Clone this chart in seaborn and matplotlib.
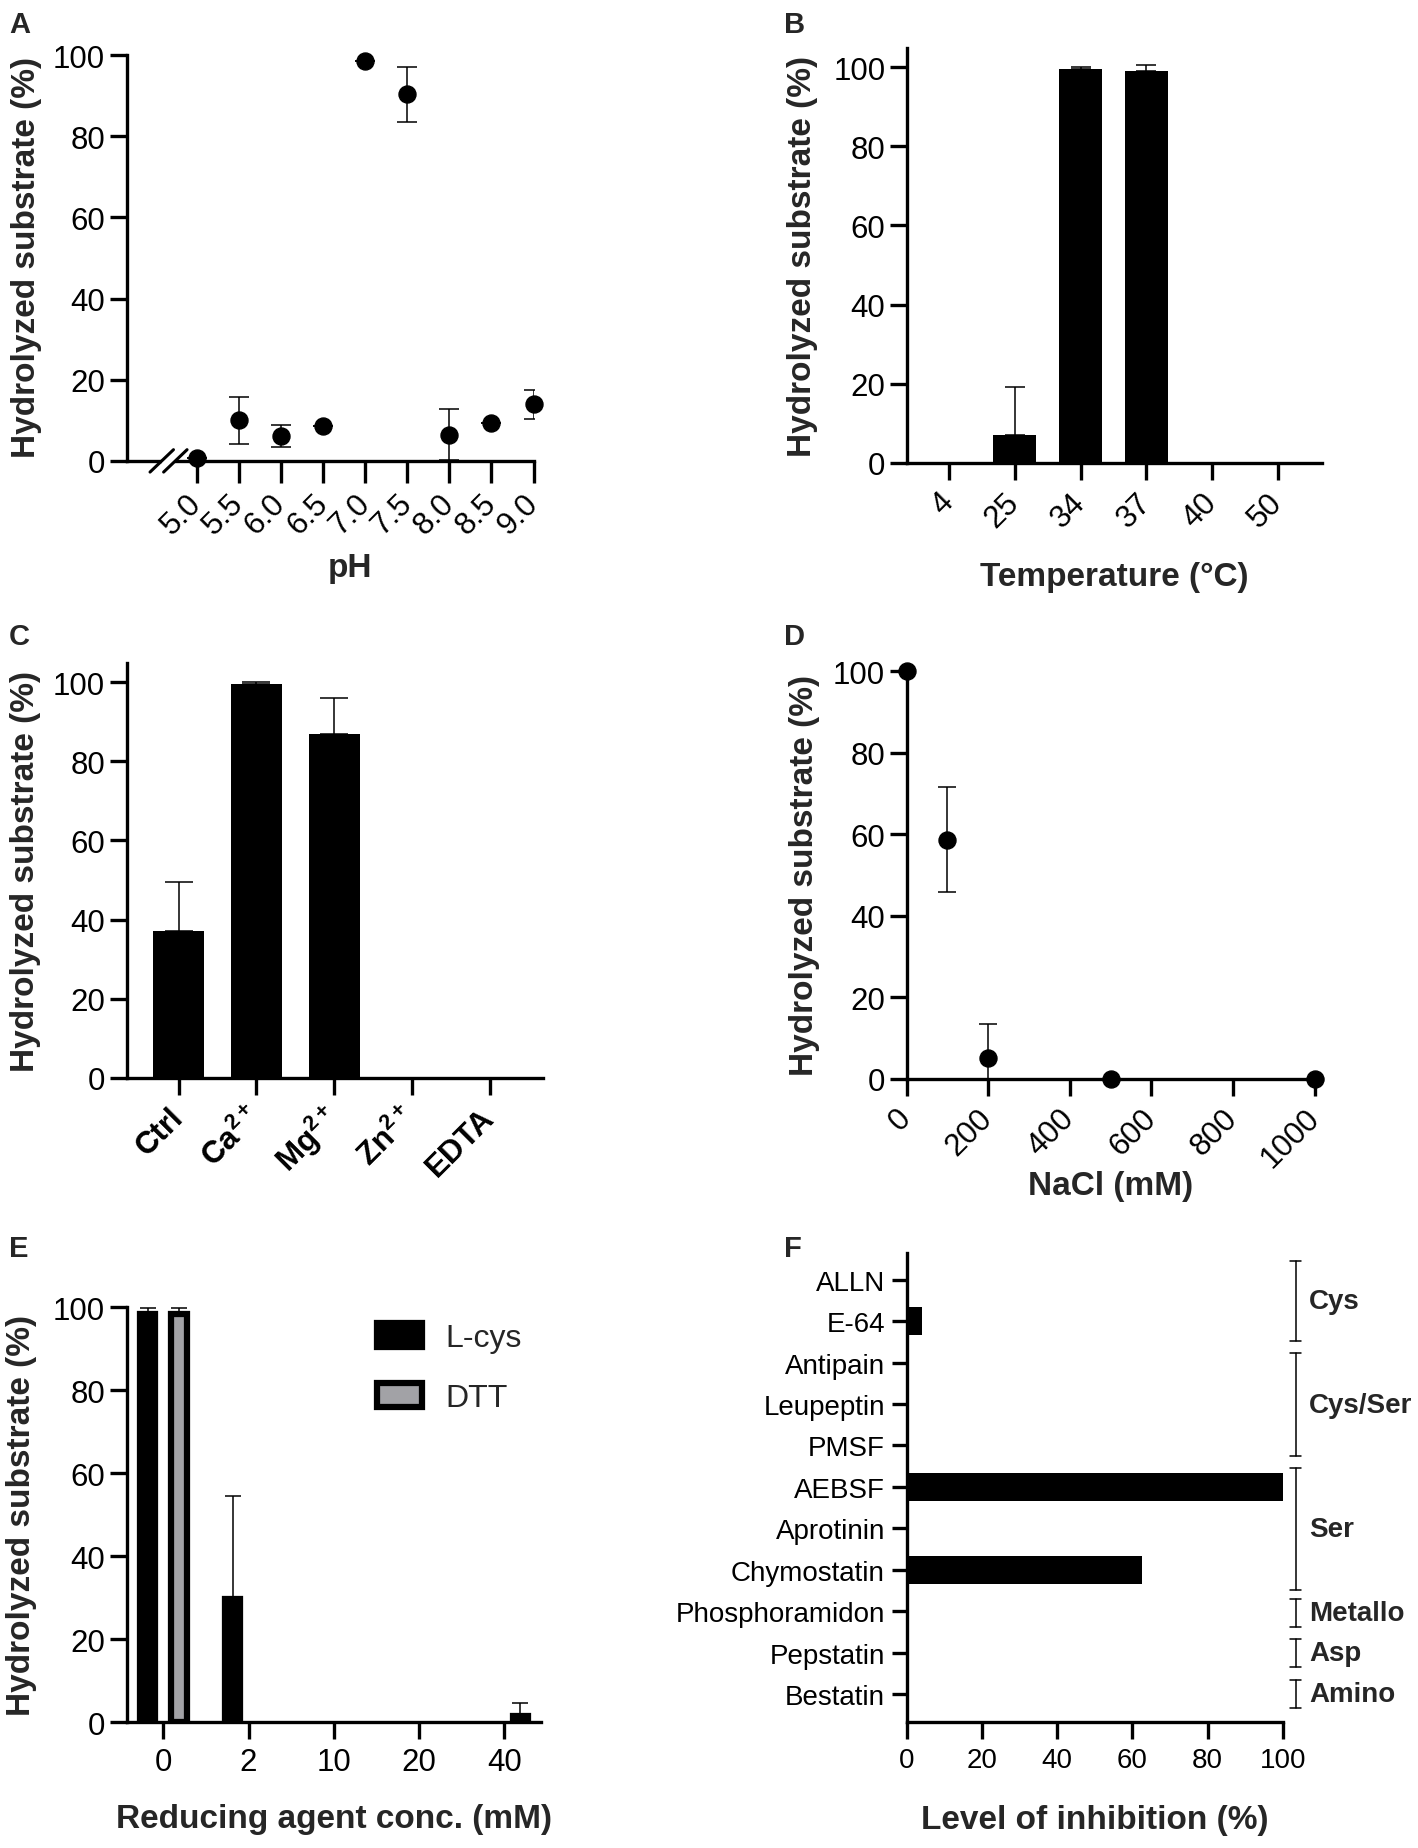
import numpy as np
import pandas as pd
import matplotlib
matplotlib.use("Agg")
import matplotlib.pyplot as plt
import seaborn as sns

# ---------------- data ----------------
ph = [5.0, 5.5, 6.0, 6.5, 7.0, 7.5, 8.0, 8.5, 9.0]
ph_mean = [0.7, 10.0, 6.2, 8.7, 98.5, 90.4, 6.4, 9.3, 13.9]
ph_sd = [0, 5.8, 2.7, 0, 0, 6.8, 6.3, 0, 3.6]

temp = ['4', '25', '34', '37', '40', '50']
temp_mean = [0, 7.0, 99.6, 99.1, 0, 0]
temp_sd = [0, 12.1, 0.5, 1.4, 0, 0]

ions = ['Ctrl', 'Ca2+', 'Mg2+', 'Zn2+', 'EDTA']
ion_labels = ['Ctrl', r'Ca$^{\mathbf{2+}}$', r'Mg$^{\mathbf{2+}}$', r'Zn$^{\mathbf{2+}}$', 'EDTA']
ion_mean = [37.1, 99.5, 87.0, 0, 0]
ion_sd = [12.5, 0.5, 9.0, 0, 0]

nacl = [0, 100, 200, 500, 1000]
nacl_mean = [100, 58.7, 5.0, 0, 0]
nacl_sd = [0, 13.0, 8.5, 0, 0]

conc = ['0', '2', '10', '20', '40']
agents = ['L-cys', 'DTT']
lcys_mean = [98.4, 29.8, 0, 0, 0]
lcys_sd = [1.3, 24.8, 0, 0, 0]
dtt_mean = [98.4, 0, 0, 0, 1.5]
dtt_sd = [1.3, 0, 0, 0, 3.2]

inhibitors = ['ALLN', 'E-64', 'Antipain', 'Leupeptin', 'PMSF', 'AEBSF',
              'Aprotinin', 'Chymostatin', 'Phosphoramidon', 'Pepstatin', 'Bestatin']
inhibition = [0, 4.0, 0, 0, 0, 100, 0, 62.5, 0, 0, 0]
group_names = ['Cys', 'Cys/Ser', 'Ser', 'Metallo', 'Asp', 'Amino']
group_start = [-0.46, 1.78, 4.54, 7.71, 8.68, 9.67]
group_end = [1.47, 4.26, 7.48, 8.38, 9.35, 10.35]

# ---------------- style ----------------
sns.set_theme(style='ticks')
plt.rcParams['font.family'] = ['Liberation Sans', 'DejaVu Sans']
plt.rcParams['mathtext.fontset'] = 'custom'
plt.rcParams['mathtext.rm'] = 'Liberation Sans'
plt.rcParams['mathtext.bf'] = 'Liberation Sans:bold'
plt.rcParams['mathtext.it'] = 'Liberation Sans:italic'

SP = 2.4
TICK = 22.5
LAB = 24
ELW = 1.1

fig = plt.figure(figsize=(14.18, 18.49), dpi=100)

def style_axes(ax, xlen=12, ylen=12, labelsize=TICK, ypad=3.5):
    sns.despine(ax=ax)
    for s in ['left', 'bottom']:
        ax.spines[s].set_linewidth(SP)
        ax.spines[s].set_color('black')
    ax.tick_params(axis='both', direction='out', width=SP, color='black',
                   labelsize=labelsize, labelcolor='black')
    ax.tick_params(axis='x', length=xlen, pad=6)
    ax.tick_params(axis='y', length=ylen, pad=ypad)
    ax.set_facecolor('white')

def set_labels(ax, xlabel, xpos, ylabel, ypos, size=LAB):
    if xlabel:
        ax.set_xlabel(xlabel, fontsize=size, fontweight='bold')
        ax.xaxis.set_label_coords(*xpos)
        ax.xaxis.label.set_verticalalignment('center')
    else:
        ax.set_xlabel('')
    if ylabel:
        ax.set_ylabel(ylabel, fontsize=size, fontweight='bold')
        ax.yaxis.set_label_coords(*ypos)
        ax.yaxis.label.set_verticalalignment('center')
        ax.yaxis.label.set_horizontalalignment('center')
    else:
        ax.set_ylabel('')

def rot_labels(ax, labels, pad=10, bold=False):
    ax.set_xticks(ax.get_xticks())
    ax.set_xticklabels(labels, rotation=45, ha='right', va='center',
                       rotation_mode='anchor',
                       fontweight='bold' if bold else 'normal')
    ax.tick_params(axis='x', pad=pad)

def bar_errors(ax, container, sds, capsize):
    for patch, sd in zip(container.patches if hasattr(container, 'patches') else container, sds):
        if sd > 0:
            xc = patch.get_x() + patch.get_width() / 2
            h = patch.get_height()
            ax.errorbar([xc], [h], yerr=[[0], [sd]], fmt='none', ecolor='black',
                        elinewidth=ELW, capsize=capsize, capthick=ELW, zorder=1)

YLBL = 'Hydrolyzed substrate (%)'

# ---------------- A ----------------
axA = fig.add_axes([0.0893, 0.7502, 0.2870, 0.2194])
axA.errorbar(ph, ph_mean, yerr=ph_sd, fmt='none', ecolor='black',
             elinewidth=ELW, capsize=7, capthick=ELW, zorder=2)
sns.scatterplot(x=ph, y=ph_mean, ax=axA, s=150, color='black',
                edgecolor='black', zorder=3, clip_on=False, legend=False)
axA.set_xlim(4.1675, 9.0)
axA.set_ylim(0, 100)
axA.set_yticks([0, 20, 40, 60, 80, 100])
axA.set_xticks(ph)
style_axes(axA, xlen=16)
rot_labels(axA, [f'{p:.1f}' for p in ph], pad=11)
set_labels(axA, 'pH', (0.55, -0.264), YLBL, (-0.2457, 0.505))
# axis break marks
axA.plot([0.0863, 0.1197], [0, 0], transform=axA.transAxes, color='white',
         lw=6, solid_capstyle='butt', clip_on=False, zorder=5)
for cx in [0.0863, 0.1197]:
    axA.plot([cx - 0.0288, cx + 0.0288], [-0.0276, 0.0276], transform=axA.transAxes,
             color='black', lw=2.2, clip_on=False, zorder=6)

# ---------------- B ----------------
axB = fig.add_axes([0.6396, 0.7492, 0.2927, 0.2241])
sns.barplot(x=temp, y=temp_mean, order=temp, color='black', saturation=1,
            width=0.653, linewidth=0, errorbar=None, ax=axB)
bar_errors(axB, axB.containers[0], temp_sd, 7.5)
axB.set_xlim(-0.638, 5.669)
axB.set_ylim(0, 104.8)
axB.set_yticks([0, 20, 40, 60, 80, 100])
style_axes(axB)
rot_labels(axB, temp, pad=13)
set_labels(axB, 'Temperature (°C)', (0.5, -0.274), YLBL, (-0.2516, 0.499))

# ---------------- C ----------------
axC = fig.add_axes([0.0893, 0.4166, 0.2933, 0.2241])
sns.barplot(x=ions, y=ion_mean, order=ions, color='black', saturation=1,
            width=0.656, linewidth=0, errorbar=None, ax=axC)
bar_errors(axC, axC.containers[0], ion_sd, 10)
axC.set_xlim(-0.67, 4.68)
axC.set_ylim(0, 104.8)
axC.set_yticks([0, 20, 40, 60, 80, 100])
style_axes(axC)
rot_labels(axC, ion_labels, pad=13, bold=True)
set_labels(axC, None, None, YLBL, (-0.242, 0.499))

# ---------------- D ----------------
axD = fig.add_axes([0.6393, 0.4161, 0.2927, 0.2203])
axD.errorbar(nacl, nacl_mean, yerr=nacl_sd, fmt='none', ecolor='black',
             elinewidth=ELW, capsize=6.5, capthick=ELW, zorder=2)
sns.scatterplot(x=nacl, y=nacl_mean, ax=axD, s=150, color='black',
                edgecolor='black', zorder=3, clip_on=False, legend=False)
axD.set_xlim(0, 1017)
axD.set_ylim(0, 100)
axD.set_xticks([0, 200, 400, 600, 800, 1000])
axD.set_yticks([0, 20, 40, 60, 80, 100])
style_axes(axD)
rot_labels(axD, ['0', '200', '400', '600', '800', '1000'], pad=13)
set_labels(axD, 'NaCl (mM)', (0.492, -0.262), YLBL, (-0.245, 0.5))

# ---------------- E ----------------
axE = fig.add_axes([0.0893, 0.0679, 0.2922, 0.2246])
dfE = pd.DataFrame({'conc': conc * 2,
                    'agent': ['L-cys'] * len(conc) + ['DTT'] * len(conc),
                    'value': lcys_mean + dtt_mean})
sns.barplot(data=dfE, x='conc', y='value', hue='agent', order=conc, hue_order=agents,
            palette={'L-cys': 'black', 'DTT': '#a2a2a6'}, saturation=1,
            width=0.74, gap=0.52, linewidth=4.5, edgecolor='black',
            errorbar=None, ax=axE)
for cont in axE.containers:
    for p in cont.patches if hasattr(cont, 'patches') else cont:
        if p.get_height() == 0:
            p.set_linewidth(0)
bar_errors(axE, axE.containers[0], lcys_sd, 6)
bar_errors(axE, axE.containers[1], dtt_sd, 6)
axE.set_xlim(-0.43, 4.43)
axE.set_ylim(0, 100)
axE.set_yticks([0, 20, 40, 60, 80, 100])
style_axes(axE)
leg = axE.get_legend()
handles = list(leg.legend_handles)
labels = [t.get_text() for t in leg.get_texts()]
for h, c in zip(handles, ['black', '#a2a2a6']):
    h.set_facecolor(c)
    h.set_edgecolor('black')
    h.set_linewidth(4.5)
axE.legend(handles, labels, loc='upper left', bbox_to_anchor=(0.604, 0.962),
           frameon=False, fontsize=23, handlelength=1.4, handleheight=0.75,
           labelspacing=0.95, handletextpad=0.75, borderpad=0, borderaxespad=0)
set_labels(axE, 'Reducing agent conc. (mM)', (0.5, -0.232), YLBL, (-0.254, 0.5))

# ---------------- F ----------------
axF = fig.add_axes([0.6393, 0.0683, 0.2654, 0.2536])
sns.barplot(x=inhibition, y=inhibitors, order=inhibitors, orient='h', color='black',
            saturation=1, width=0.67, linewidth=0, errorbar=None, ax=axF)
axF.set_xlim(0, 100)
axF.set_ylim(10.67, -0.65)
axF.set_xticks([0, 20, 40, 60, 80, 100])
style_axes(axF, xlen=12, ylen=10.5, labelsize=20, ypad=5)
for name, s, e in zip(group_names, group_start, group_end):
    axF.plot([103.4, 103.4], [s, e], color='black', lw=1.1, clip_on=False)
    for yy in (s, e):
        axF.plot([101.95, 104.85], [yy, yy], color='black', lw=1.1, clip_on=False)
    axF.text(107.0, (s + e) / 2, name, ha='left', va='center', fontsize=20,
             fontweight='bold', clip_on=False)
set_labels(axF, 'Level of inhibition (%)', (0.5, -0.2075), None, None)

# ---------------- panel letters ----------------
for letter, x, y in [('A', 0.0063, 0.994), ('B', 0.553, 0.994),
                     ('C', 0.0063, 0.663), ('D', 0.553, 0.663),
                     ('E', 0.0063, 0.332), ('F', 0.553, 0.332)]:
    fig.text(x, y, letter, fontsize=21, fontweight='bold', ha='left', va='top')

fig.savefig('out.png', dpi=100, facecolor='white')
